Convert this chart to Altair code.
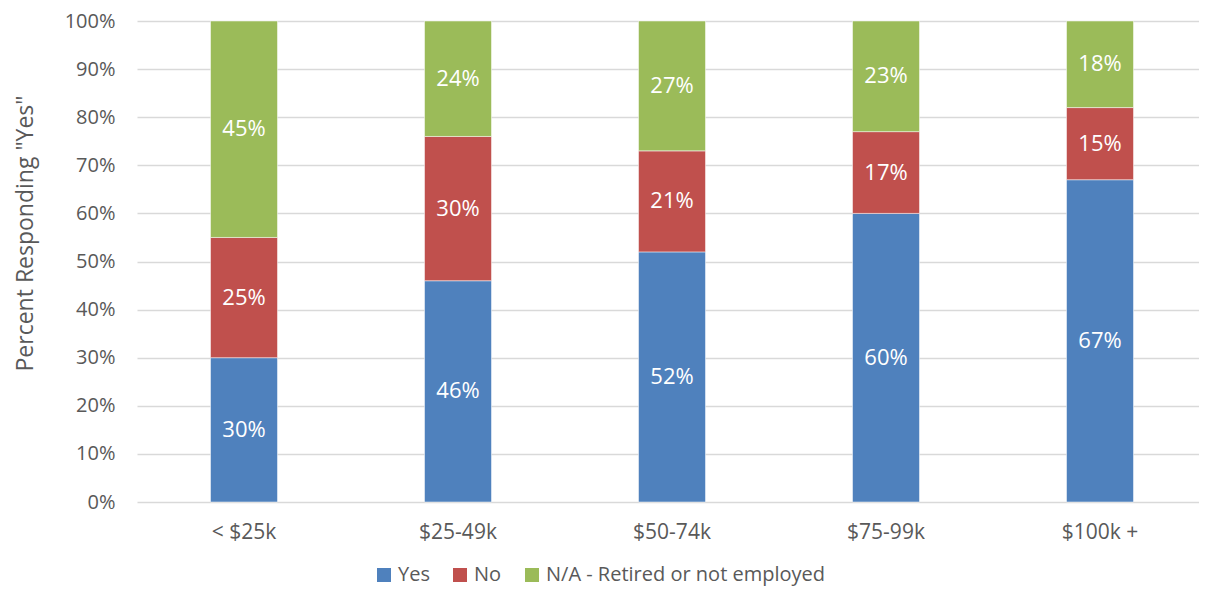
import altair as alt
import pandas as pd

categories = ["< $25k", "$25-49k", "$50-74k", "$75-99k", "$100k +"]
series = ["Yes", "No", "N/A - Retired or not employed"]
yes_vals = [0.30, 0.46, 0.52, 0.60, 0.67]
no_vals = [0.25, 0.30, 0.21, 0.17, 0.15]
na_vals = [0.45, 0.24, 0.27, 0.23, 0.18]
colors = ["#4F81BD", "#C0504D", "#9BBB59"]

rows = []
for i, c in enumerate(categories):
    for j, (s, vals) in enumerate(zip(series, [yes_vals, no_vals, na_vals])):
        rows.append({"cat": c, "series": s, "value": vals[i], "ord": j})
df = pd.DataFrame(rows)

FONT = "Open Sans"
TXT = "#595959"

base = alt.Chart(df).transform_stack(
    stack="value", groupby=["cat"], as_=["y0", "y1"], sort=[alt.SortField("ord")]
).transform_calculate(mid="(datum.y0 + datum.y1) / 2")

x_scale = alt.Scale(paddingInner=0.687, paddingOuter=0.3435, range=[0, 1070])

x_enc = alt.X(
    "cat:N",
    sort=categories,
    title=None,
    scale=x_scale,
    axis=alt.Axis(
        domain=False, ticks=False, labelAngle=0, labelFont=FONT,
        labelFontSize=21, labelColor=TXT, labelPadding=19,
    ),
)

bars = base.mark_bar(stroke="white", strokeWidth=0.5).encode(
    x=x_enc,
    y=alt.Y(
        "y1:Q",
        scale=alt.Scale(domain=[0, 1], nice=False),
        title='Percent Responding "Yes"',
        axis=alt.Axis(
            format=".0%", values=[i / 10 for i in range(11)], domain=False, ticks=False,
            grid=True, gridColor="#D9D9D9", gridWidth=1.5,
            labelFont=FONT, labelFontSize=20, labelColor=TXT, labelPadding=22,
            titleFont=FONT, titleFontSize=23, titleColor=TXT, titleFontWeight="normal",
            titleX=-112, titleY=212, titleAngle=-90, titleAlign="center",
            titleBaseline="middle",
        ),
    ),
    y2="y0:Q",
    color=alt.Color(
        "series:N",
        sort=series,
        scale=alt.Scale(domain=series, range=colors),
        legend=alt.Legend(
            title=None, orient="none", direction="horizontal",
            legendX=237, legendY=544,
            symbolType="square", symbolSize=196, symbolStrokeWidth=0,
            symbolOpacity=1, labelLimit=0,
            labelFont=FONT, labelFontSize=20, labelColor=TXT,
            labelOffset=4, columnPadding=20,
        ),
    ),
    order=alt.Order("ord:Q"),
)

labels = base.mark_text(
    color="white", font=FONT, fontSize=22, baseline="middle", align="center"
).encode(
    x=alt.X("cat:N", sort=categories, scale=x_scale),
    y=alt.Y("mid:Q"),
    text=alt.Text("value:Q", format=".0%"),
)

chart = (
    alt.layer(bars, labels)
    .properties(
        width=1062,
        height=481,
        padding={"left": 129, "top": 13, "right": 0, "bottom": 86},
        autosize=alt.AutoSizeParams(type="none"),
    )
    .configure_view(stroke=None)
)

chart.save("out.html", embed_options={"renderer": "svg", "actions": False})
